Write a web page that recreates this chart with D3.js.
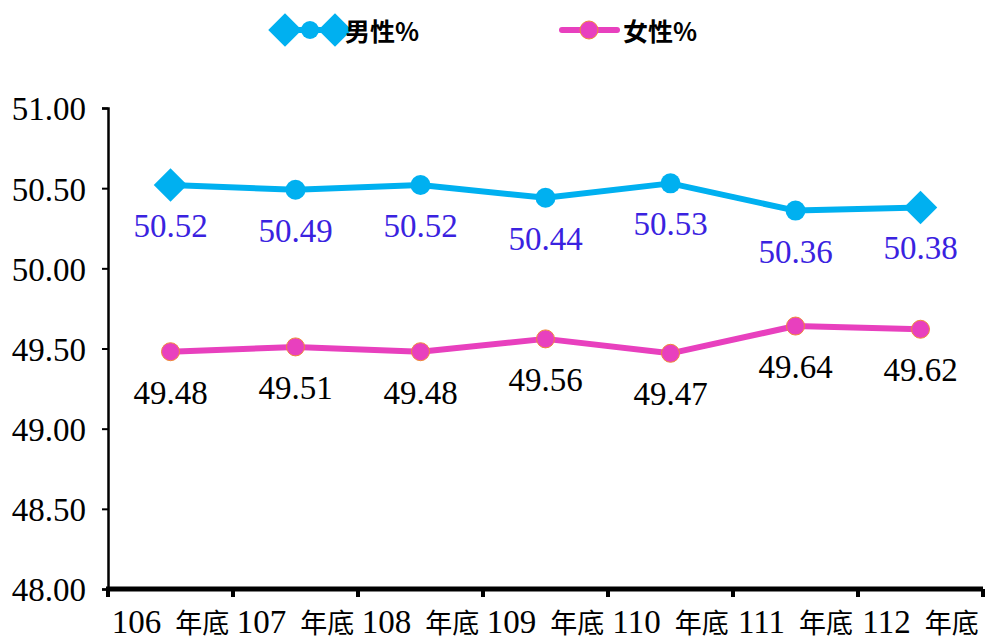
<!DOCTYPE html>
<html>
<head>
<meta charset="utf-8">
<script src="https://cdn.jsdelivr.net/npm/d3@7"></script>
<style>
  body { margin: 0; background: #fff; }
  text { font-family: "Liberation Serif", "Noto Sans CJK TC", serif; }
</style>
</head>
<body>
<svg id="chart"></svg>
<script>
// Data
const categories = ["106 年底", "107 年底", "108 年底", "109 年底", "110 年底", "111 年底", "112 年底"];
const maleValues = [50.52, 50.49, 50.52, 50.44, 50.53, 50.36, 50.38];
const femaleValues = [49.48, 49.51, 49.48, 49.56, 49.47, 49.64, 49.62];
const yTicks = [48.0, 48.5, 49.0, 49.5, 50.0, 50.5, 51.0];

const width = 985, height = 641;
const margin = { top: 108, right: 2, bottom: 52, left: 108 };

const svg = d3.select("#chart").attr("width", width).attr("height", height);

const x = d3.scaleBand()
    .domain(categories)
    .range([margin.left, width - margin.right])
    .padding(0);

const y = d3.scaleLinear()
    .domain([48, 51])
    .range([height - margin.bottom, margin.top]);

const blue = "#00B0F0";
const pink = "#E840BE";

// Y axis
const yAxis = svg.append("g")
    .attr("transform", `translate(${margin.left},0)`)
    .call(d3.axisLeft(y).tickValues(yTicks).tickFormat(d3.format(".2f")).tickSize(6).tickPadding(16));
yAxis.select(".domain").attr("stroke", "#000").attr("stroke-width", 2.5);
yAxis.selectAll(".tick line").attr("stroke", "#000").attr("stroke-width", 2);
yAxis.selectAll(".tick text")
    .attr("fill", "#000")
    .attr("dy", "0.36em")
    .style("font-size", "33px");

// X axis (ticks at band boundaries)
const xAxisG = svg.append("g");
xAxisG.append("line")
    .attr("x1", margin.left - 2).attr("x2", width - margin.right)
    .attr("y1", y(48)).attr("y2", y(48))
    .attr("stroke", "#000").attr("stroke-width", 5);
const bounds = categories.map(c => x(c)).concat([x(categories[categories.length - 1]) + x.bandwidth()]);
xAxisG.selectAll("line.tk")
    .data(bounds)
    .enter().append("line")
    .attr("class", "tk")
    .attr("x1", d => d).attr("x2", d => d)
    .attr("y1", y(48)).attr("y2", y(48) + 8)
    .attr("stroke", "#000").attr("stroke-width", 4);
const xt = xAxisG.selectAll("text")
    .data(categories)
    .enter().append("text")
    .attr("x", d => x(d) + x.bandwidth() / 2)
    .attr("y", 633)
    .attr("text-anchor", "middle")
    .attr("fill", "#000");
xt.append("tspan").style("font-size", "33px").text(d => d.split(" ")[0]);
xt.append("tspan").attr("dx", 14).style("font-size", "27px")
    .style("font-family", "'Noto Sans CJK TC', serif")
    .text(d => d.split(" ")[1]);

const cx = i => x(categories[i]) + x.bandwidth() / 2;
const line = d3.line().x((d, i) => cx(i)).y(d => y(d));

// Male series
svg.append("path")
    .datum(maleValues)
    .attr("fill", "none")
    .attr("stroke", blue)
    .attr("stroke-width", 6)
    .attr("stroke-linejoin", "round")
    .attr("d", line);

const diamond = d3.symbol().type(d3.symbolSquare).size(560);
svg.selectAll(".male-pt")
    .data(maleValues)
    .enter().each(function (d, i) {
        const g = d3.select(this);
        if (i === 0 || i === maleValues.length - 1) {
            g.append("path")
                .attr("d", diamond())
                .attr("transform", `translate(${cx(i)},${y(d)}) rotate(45)`)
                .attr("fill", blue);
        } else {
            g.append("circle")
                .attr("cx", cx(i)).attr("cy", y(d)).attr("r", 10)
                .attr("fill", blue);
        }
    });

svg.selectAll(".male-lbl")
    .data(maleValues)
    .enter().append("text")
    .attr("x", (d, i) => cx(i))
    .attr("y", d => y(d) + 52)
    .attr("text-anchor", "middle")
    .attr("fill", "#3A22E0")
    .style("font-size", "33px")
    .text(d => d.toFixed(2));

// Female series
svg.append("path")
    .datum(femaleValues)
    .attr("fill", "none")
    .attr("stroke", pink)
    .attr("stroke-width", 6)
    .attr("stroke-linejoin", "round")
    .attr("d", line);

svg.selectAll(".female-pt")
    .data(femaleValues)
    .enter().append("circle")
    .attr("cx", (d, i) => cx(i))
    .attr("cy", d => y(d))
    .attr("r", 9)
    .attr("fill", pink)
    .attr("stroke", "#F0883A")
    .attr("stroke-width", 1);

svg.selectAll(".female-lbl")
    .data(femaleValues)
    .enter().append("text")
    .attr("x", (d, i) => cx(i))
    .attr("y", d => y(d) + 52)
    .attr("text-anchor", "middle")
    .attr("fill", "#000")
    .style("font-size", "33px")
    .text(d => d.toFixed(2));

// Legend
const leg = svg.append("g");
leg.append("line").attr("x1", 285).attr("x2", 335).attr("y1", 30).attr("y2", 30)
    .attr("stroke", blue).attr("stroke-width", 6);
[285, 335].forEach(px => {
    leg.append("path").attr("d", diamond())
        .attr("transform", `translate(${px},30) rotate(45)`).attr("fill", blue);
});
leg.append("circle").attr("cx", 310).attr("cy", 30).attr("r", 9).attr("fill", blue);
leg.append("text").attr("x", 345).attr("y", 41)
    .style("font-family", "'Noto Sans CJK TC', sans-serif")
    .style("font-size", "25px").style("font-weight", "bold")
    .text("男性%");

leg.append("line").attr("x1", 562).attr("x2", 617).attr("y1", 30).attr("y2", 30)
    .attr("stroke", pink).attr("stroke-width", 6).attr("stroke-linecap", "round");
leg.append("circle").attr("cx", 589).attr("cy", 30).attr("r", 9)
    .attr("fill", pink).attr("stroke", "#F0883A").attr("stroke-width", 1);
leg.append("text").attr("x", 623).attr("y", 41)
    .style("font-family", "'Noto Sans CJK TC', sans-serif")
    .style("font-size", "25px").style("font-weight", "bold")
    .text("女性%");
</script>
</body>
</html>
